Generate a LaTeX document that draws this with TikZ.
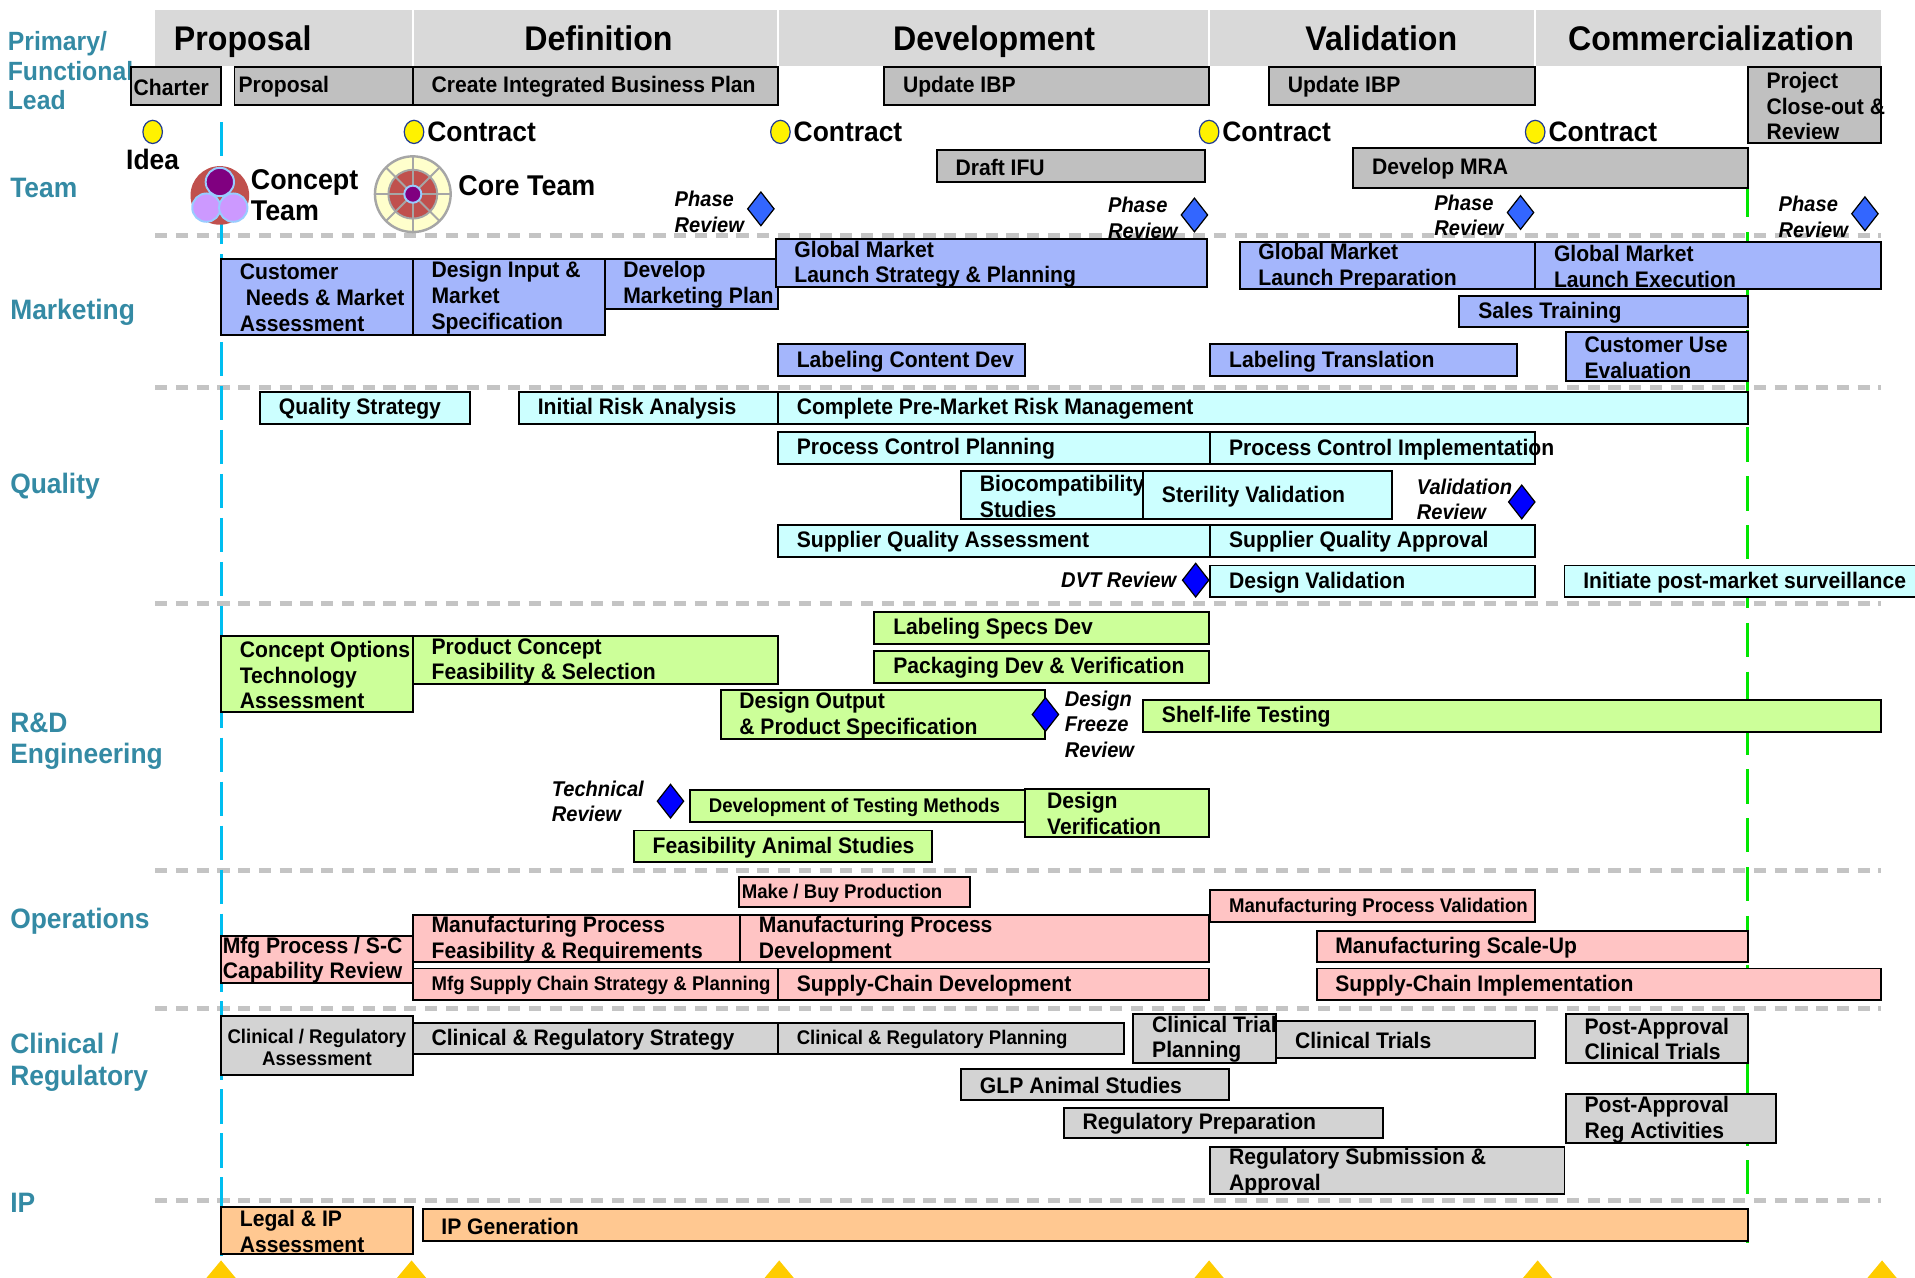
\documentclass[tikz,border=0pt]{standalone}
\usepackage{fontspec}
\setmainfont{Liberation Sans}[FakeStretch=0.94]
\usetikzlibrary{calc,positioning,shapes.geometric}

\definecolor{headgray}{RGB}{217,217,217}
\definecolor{leadgray}{RGB}{192,192,192}
\definecolor{clingray}{RGB}{211,211,211}
\definecolor{mktblue}{RGB}{164,182,252}
\definecolor{qualcyan}{RGB}{204,255,255}
\definecolor{rdgreen}{RGB}{204,255,153}
\definecolor{opspink}{RGB}{255,196,196}
\definecolor{iporange}{RGB}{255,200,145}
\definecolor{laneteal}{RGB}{52,138,164}
\definecolor{sepgray}{RGB}{196,196,196}
\definecolor{gatecyan}{RGB}{0,190,240}
\definecolor{launchgreen}{RGB}{0,230,0}
\definecolor{reviewblue}{RGB}{51,102,255}
\definecolor{milegold}{RGB}{255,204,0}
\definecolor{teamred}{RGB}{192,80,77}
\definecolor{teampurple}{RGB}{128,0,128}
\definecolor{teamlilac}{RGB}{204,153,255}
\definecolor{teamrim}{RGB}{153,204,255}
\definecolor{corecream}{RGB}{255,255,204}
\definecolor{dotrim}{RGB}{31,58,147}

\newcommand{\boxfont}{\fontsize{9.2}{10.5}\selectfont\bfseries}
\newcommand{\smallboxfont}{\fontsize{8.1}{9}\selectfont\bfseries}
\newcommand{\phasefont}{\fontsize{14}{16}\selectfont\bfseries}
\newcommand{\lanefont}{\fontsize{11.5}{12}\selectfont\bfseries}
\newcommand{\gatefont}{\fontsize{11.5}{12.5}\selectfont\bfseries}
\newcommand{\reviewfont}{\fontsize{8.75}{10.5}\selectfont\bfseries\itshape}

\tikzset{
    taskbox/.style={draw=black,line width=0.8pt},
    tasktext/.style={font=\boxfont,align=left,inner sep=0pt,yshift=-0.4pt},
    phasetext/.style={font=\phasefont,inner sep=0pt,anchor=base},
    lanetext/.style={font=\lanefont,text=laneteal,align=left,anchor=west,inner sep=0pt},
    gatetext/.style={font=\gatefont,align=left,inner sep=0pt},
    reviewtext/.style={font=\reviewfont,align=left,inner sep=0pt},
    sepline/.style={sepgray,line width=2pt,dash pattern=on 5pt off 3.5pt},
    gatedot/.style={ellipse,draw=dotrim,line width=0.5pt,fill=yellow,
        minimum width=8pt,minimum height=9.5pt,inner sep=0pt},
    phasereview/.style={diamond,draw=black,line width=0.5pt,fill=reviewblue,
        minimum width=11pt,minimum height=14pt,inner sep=0pt},
    techreview/.style={phasereview,fill=blue},
}

% task bar: [text inset]{name}{fill}{corner}{corner}{text}
\newcommand{\taskbar}[6][7.5pt]{%
    \draw[taskbox,fill=#3] (#4) rectangle (#5);
    \path let \p1=(#4), \p2=(#5) in
        node[tasktext,anchor=west] (#2) at (\x1+#1,{0.5*(\y1+\y2)}) {#6};
}

\begin{document}
\begin{tikzpicture}[x=0.5pt,y=-0.5pt]

\useasboundingbox (0,0) rectangle (1568,1046);

% phase header
\fill[headgray] (127,8) rectangle (1540,54);
\foreach \xsep in {338,637,990,1257}
    \draw[white,line width=1pt] (\xsep,8) -- (\xsep,54);
\node[phasetext,anchor=base west] (hProposal) at (142,41) {Proposal};
\node[phasetext] (hDefinition) at (490,41) {Definition};
\node[phasetext] (hDevelopment) at (814,41) {Development};
\node[phasetext] (hValidation) at (1131,41) {Validation};
\node[phasetext] (hCommercial) at (1401,41) {Commercialization};

% lane labels
\node[lanetext,font=\fontsize{10.8}{12}\selectfont\bfseries] (lLead) at (6,58) {Primary/\\Functional\\Lead};
\node[lanetext] (lTeam) at (8,154) {Team};
\node[lanetext] (lMarketing) at (8,256) {Marketing};
\node[lanetext] (lQuality) at (8,398) {Quality};
\node[lanetext,font=\fontsize{11.5}{13}\selectfont\bfseries] (lRD) at (8,607) {R\&D\\Engineering};
\node[lanetext] (lOperations) at (8,754) {Operations};
\node[lanetext,font=\fontsize{11.5}{13}\selectfont\bfseries] (lClinical) at (8,870) {Clinical /\\Regulatory};
\node[lanetext] (lIP) at (8,985) {IP};

% lane separators
\foreach \ysep in {193,317,494,713,826,983}
    \draw[sepline] (127,\ysep) -- (1540,\ysep);

% gate lines
\draw[gatecyan,line width=1.2pt,dash pattern=on 14pt off 4pt] (181,100) -- (181,1040);
\draw[launchgreen,line width=1.2pt,dash pattern=on 14pt off 6pt] (1431,150) -- (1431,1022);

% idea and contract milestones
\node[gatedot] (idea) at (125,108) {};
\node[gatetext,below=2pt of idea] (ideaLabel) {Idea};
\foreach \xg/\nm in {339/gA,639/gB,990/gC,1257/gD} {
    \node[gatedot] (\nm) at (\xg,108) {};
    \node[gatetext,right=1pt of \nm] (\nm Label) {Contract};
}

% concept team icon
\coordinate (conceptTeam) at (180,160);
\fill[teamred] (conceptTeam) circle (12pt);
\draw[teamrim,line width=0.8pt,fill=teampurple] (180,149) circle (5.8pt);
\draw[teamrim,line width=0.8pt,fill=teamlilac] (169,170) circle (5.8pt);
\draw[teamrim,line width=0.8pt,fill=teamlilac] (191,170) circle (5.8pt);
\node[gatetext,font=\fontsize{11.7}{12.5}\selectfont\bfseries,anchor=west] (conceptLabel) at (205,160) {Concept\\Team};

% core team icon
\coordinate (coreTeam) at (338,159);
\draw[gray!70,line width=1pt,fill=corecream] (coreTeam) circle (15.5pt);
\draw[gray!70,line width=0.8pt,fill=teamred] (coreTeam) circle (10pt);
\foreach \ang in {0,45,...,315}
    \draw[gray!70,line width=0.8pt] ($(coreTeam)+(\ang:3.5pt)$) -- ($(coreTeam)+(\ang:15.5pt)$);
\draw[teamrim,line width=0.8pt,fill=teampurple] (coreTeam) circle (3.5pt);
\node[gatetext,font=\fontsize{11.7}{12.5}\selectfont\bfseries,anchor=west] (coreLabel) at (375,152) {Core Team};

% lead row
\taskbar[1pt]{tCharter}{leadgray}{107,55}{181,86}{Charter}
\taskbar[1.5pt]{tProposal}{leadgray}{192,55}{338,86}{Proposal}
\taskbar{tCIBP}{leadgray}{338,55}{637,86}{Create Integrated Business Plan}
\taskbar{tIBPa}{leadgray}{724,55}{990,86}{Update IBP}
\taskbar{tIBPb}{leadgray}{1039,55}{1257,86}{Update IBP}
\taskbar{tCloseout}{leadgray}{1431,55}{1540,117}{Project\\Close-out \&\\Review}

% team row
\taskbar{tIFU}{leadgray}{767,123}{987,149}{Draft IFU}
\taskbar{tMRA}{leadgray}{1108,121}{1431,154}{Develop MRA}

% phase reviews
\foreach \xr/\yr/\nm in {623/171/prA,978/176/prB,1245/174/prC,1527/175/prD} {
    \node[phasereview] (\nm) at (\xr,\yr) {};
    \node[reviewtext,left=1pt of \nm,yshift=-1.2pt] (\nm Label) {Phase\\Review};
}

% marketing
\taskbar{tNeeds}{mktblue}{181,212}{338,274}{Customer\\\hspace*{2.5pt}Needs \& Market\\Assessment}
\taskbar{tDesignIn}{mktblue}{338,212}{495,274}{Design Input \&\\Market\\Specification}
\taskbar{tMktPlan}{mktblue}{495,212}{637,253}{Develop\\Marketing Plan}
\taskbar{tLaunchStrat}{mktblue}{635,196}{988,235}{Global Market\\Launch Strategy \& Planning}
\taskbar{tLaunchPrep}{mktblue}{1015,198}{1257,237}{Global Market\\Launch Preparation}
\taskbar{tLaunchExec}{mktblue}{1257,198}{1540,237}{Global Market\\Launch Execution}
\taskbar{tSales}{mktblue}{1195,242}{1431,268}{Sales Training}
\taskbar{tLabelContent}{mktblue}{637,282}{839,308}{Labeling Content Dev}
\taskbar{tLabelTrans}{mktblue}{991,282}{1242,308}{Labeling Translation}
\taskbar{tCustUse}{mktblue}{1282,272}{1431,312}{Customer Use\\Evaluation}

% quality
\taskbar{tQStrat}{qualcyan}{213,321}{385,347}{Quality Strategy}
\taskbar{tRisk}{qualcyan}{425,321}{637,347}{Initial Risk Analysis}
\taskbar{tRiskMgmt}{qualcyan}{637,321}{1431,347}{Complete Pre-Market Risk Management}
\taskbar{tPCPlan}{qualcyan}{637,354}{991,380}{Process Control Planning}
\taskbar{tPCImpl}{qualcyan}{991,354}{1257,380}{Process Control Implementation}
\taskbar{tBiocomp}{qualcyan}{787,386}{936,425}{Biocompatibility\\Studies}
\taskbar{tSterile}{qualcyan}{936,386}{1140,425}{Sterility Validation}
\taskbar{tSQA}{qualcyan}{637,430}{991,456}{Supplier Quality Assessment}
\taskbar{tSQApp}{qualcyan}{991,430}{1257,456}{Supplier Quality Approval}
\taskbar{tDesVal}{qualcyan}{991,463}{1257,489}{Design Validation}
\taskbar{tPMS}{qualcyan}{1281,463}{1580,489}{Initiate post-market surveillance}
\node[techreview] (valReview) at (1246,411) {};
\node[reviewtext,left=-2pt of valReview,yshift=1pt] (valReviewLabel) {Validation\\Review};
\node[techreview] (dvtReview) at (979,475) {};
\node[reviewtext,left=2pt of dvtReview] (dvtReviewLabel) {DVT Review};

% r&d engineering
\taskbar{tLabelSpecs}{rdgreen}{716,501}{990,527}{Labeling Specs Dev}
\taskbar{tPackaging}{rdgreen}{716,533}{990,559}{Packaging Dev \& Verification}
\taskbar{tConcOpt}{rdgreen}{181,521}{338,583}{Concept Options\\Technology\\Assessment}
\taskbar{tConcFeas}{rdgreen}{338,521}{637,560}{Product Concept\\Feasibility \& Selection}
\taskbar{tDesOut}{rdgreen}{590,565}{856,605}{Design Output\\\& Product Specification}
\taskbar{tShelf}{rdgreen}{936,573}{1540,599}{Shelf-life Testing}
\taskbar{tTestMeth}{rdgreen}{565,647}{839,673}{\smallboxfont Development of Testing Methods}
\taskbar[9pt]{tDesVer}{rdgreen}{839,646}{990,685}{Design\\Verification}
\taskbar{tAnimal}{rdgreen}{519,680}{763,706}{Feasibility Animal Studies}
\node[techreview] (freezeReview) at (856,585) {};
\node[reviewtext,right=2pt of freezeReview,yshift=-4pt] (freezeReviewLabel) {Design\\Freeze\\Review};
\node[techreview] (techReview) at (549,656) {};
\node[reviewtext,left=5pt of techReview] (techReviewLabel) {Technical\\Review};

% operations
\taskbar[1pt]{tMakeBuy}{opspink}{605,718}{794,743}{\smallboxfont Make / Buy Production}
\taskbar{tMfgFeas}{opspink}{338,749}{606,788}{Manufacturing Process\\Feasibility \& Requirements}
\taskbar{tMfgDev}{opspink}{606,749}{990,788}{Manufacturing Process\\Development}
\taskbar[0.5pt]{tMfgReview}{opspink}{181,766}{338,805}{Mfg Process / S-C\\Capability Review}
\taskbar{tSupplyStrat}{opspink}{338,793}{637,819}{\smallboxfont Mfg Supply Chain Strategy \& Planning}
\taskbar{tSupplyDev}{opspink}{637,793}{990,819}{Supply-Chain Development}
\taskbar{tMfgVal}{opspink}{991,729}{1257,755}{\smallboxfont Manufacturing Process Validation}
\taskbar{tScaleUp}{opspink}{1078,762}{1431,788}{Manufacturing Scale-Up}
\taskbar{tSupplyImpl}{opspink}{1078,793}{1540,819}{Supply-Chain Implementation}

% clinical / regulatory
\draw[taskbox,fill=clingray] (181,832) rectangle (338,880);
\node[tasktext,font=\smallboxfont,align=center] (tCRAssess) at (259.5,857) {Clinical / Regulatory\\Assessment};
\taskbar{tCRStrat}{clingray}{338,838}{637,863}{Clinical \& Regulatory Strategy}
\taskbar{tCRPlan}{clingray}{637,838}{920,863}{\smallboxfont Clinical \& Regulatory Planning}
\taskbar{tTrialPlan}{clingray}{928,830}{1045,870}{Clinical Trial\\Planning}
\taskbar{tTrials}{clingray}{1045,836}{1257,866}{Clinical Trials}
\taskbar{tPATrials}{clingray}{1282,830}{1431,870}{Post-Approval\\Clinical Trials}
\taskbar{tGLP}{clingray}{787,875}{1006,901}{GLP Animal Studies}
\taskbar{tRegPrep}{clingray}{871,907}{1132,932}{Regulatory Preparation}
\taskbar{tPAReg}{clingray}{1282,896}{1454,936}{Post-Approval\\Reg Activities}
\taskbar{tRegSub}{clingray}{991,939}{1281,978}{Regulatory Submission \&\\Approval}

% ip
\taskbar{tLegalIP}{iporange}{181,988}{338,1027}{Legal \& IP\\Assessment}
\taskbar{tIPGen}{iporange}{346,990}{1431,1016}{IP Generation}

% gate markers at the bottom edge
\foreach \xm in {181,337,638,990,1259,1541}
    \fill[milegold] (\xm,1032) -- (\xm+15,1050) -- (\xm-15,1050) -- cycle;

\end{tikzpicture}
\end{document}
